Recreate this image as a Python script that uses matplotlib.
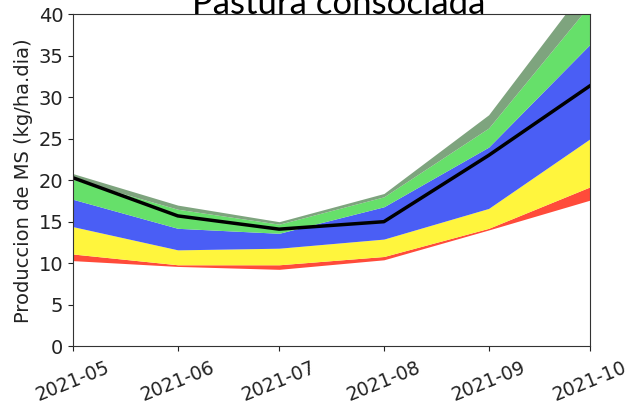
import matplotlib
matplotlib.use("Agg")
import matplotlib.pyplot as plt
import matplotlib.dates as mdates
import pandas as pd

dates = ["2021-05-01", "2021-06-01", "2021-07-01", "2021-08-01", "2021-09-01", "2021-10-01"]
p_min = [10.3, 9.6, 9.25, 10.4, 14.0, 17.6]
p10 = [11.1, 9.8, 9.8, 10.8, 14.2, 19.2]
p25 = [14.4, 11.6, 11.8, 12.9, 16.6, 25.0]
p75 = [17.7, 14.2, 13.6, 16.8, 24.0, 36.4]
p90 = [20.1, 16.5, 14.7, 18.0, 26.3, 41.2]
p_max = [20.8, 17.0, 15.0, 18.4, 27.9, 44.0]
median = [20.3, 15.7, 14.1, 15.0, 23.0, 31.4]

title = "Pastura consociada"
ylabel = "Produccion de MS (kg/ha.dia)"

x = pd.to_datetime(dates)

fig = plt.figure(figsize=(6.29, 4.11), dpi=100)
ax = fig.add_axes([73/629, (411-346)/411, (590-73)/629, (346-14.5)/411])

ax.fill_between(x, p_min, p10, color="#ff4b3a", linewidth=0)
ax.fill_between(x, p10, p25, color="#fff53d", linewidth=0)
ax.fill_between(x, p25, p75, color="#4a5ef5", linewidth=0)
ax.fill_between(x, p75, p90, color="#66e06a", linewidth=0)
ax.fill_between(x, p90, p_max, color="#7ea47e", linewidth=0)
ax.plot(x, median, color="black", linewidth=2.5)

ax.set_xlim(x[0], x[-1])
ax.set_ylim(0, 40)
ax.xaxis.set_major_locator(mdates.MonthLocator())
ax.xaxis.set_major_formatter(mdates.DateFormatter("%Y-%m"))
ax.tick_params(axis="y", labelsize=14, colors="#222222")
ax.tick_params(axis="x", labelsize=13.5, colors="#222222", pad=5)
plt.setp(ax.get_xticklabels(), rotation=22, ha="center")
ax.set_ylabel(ylabel, fontsize=14, color="#222222")
for s in ax.spines.values():
    s.set_color("#333333")

fig.text(339/629, 1 - 14.5/411, title, ha="center", va="baseline",
         fontsize=25, family=["Lato", "DejaVu Sans"])

fig.savefig("out.png", dpi=100)
